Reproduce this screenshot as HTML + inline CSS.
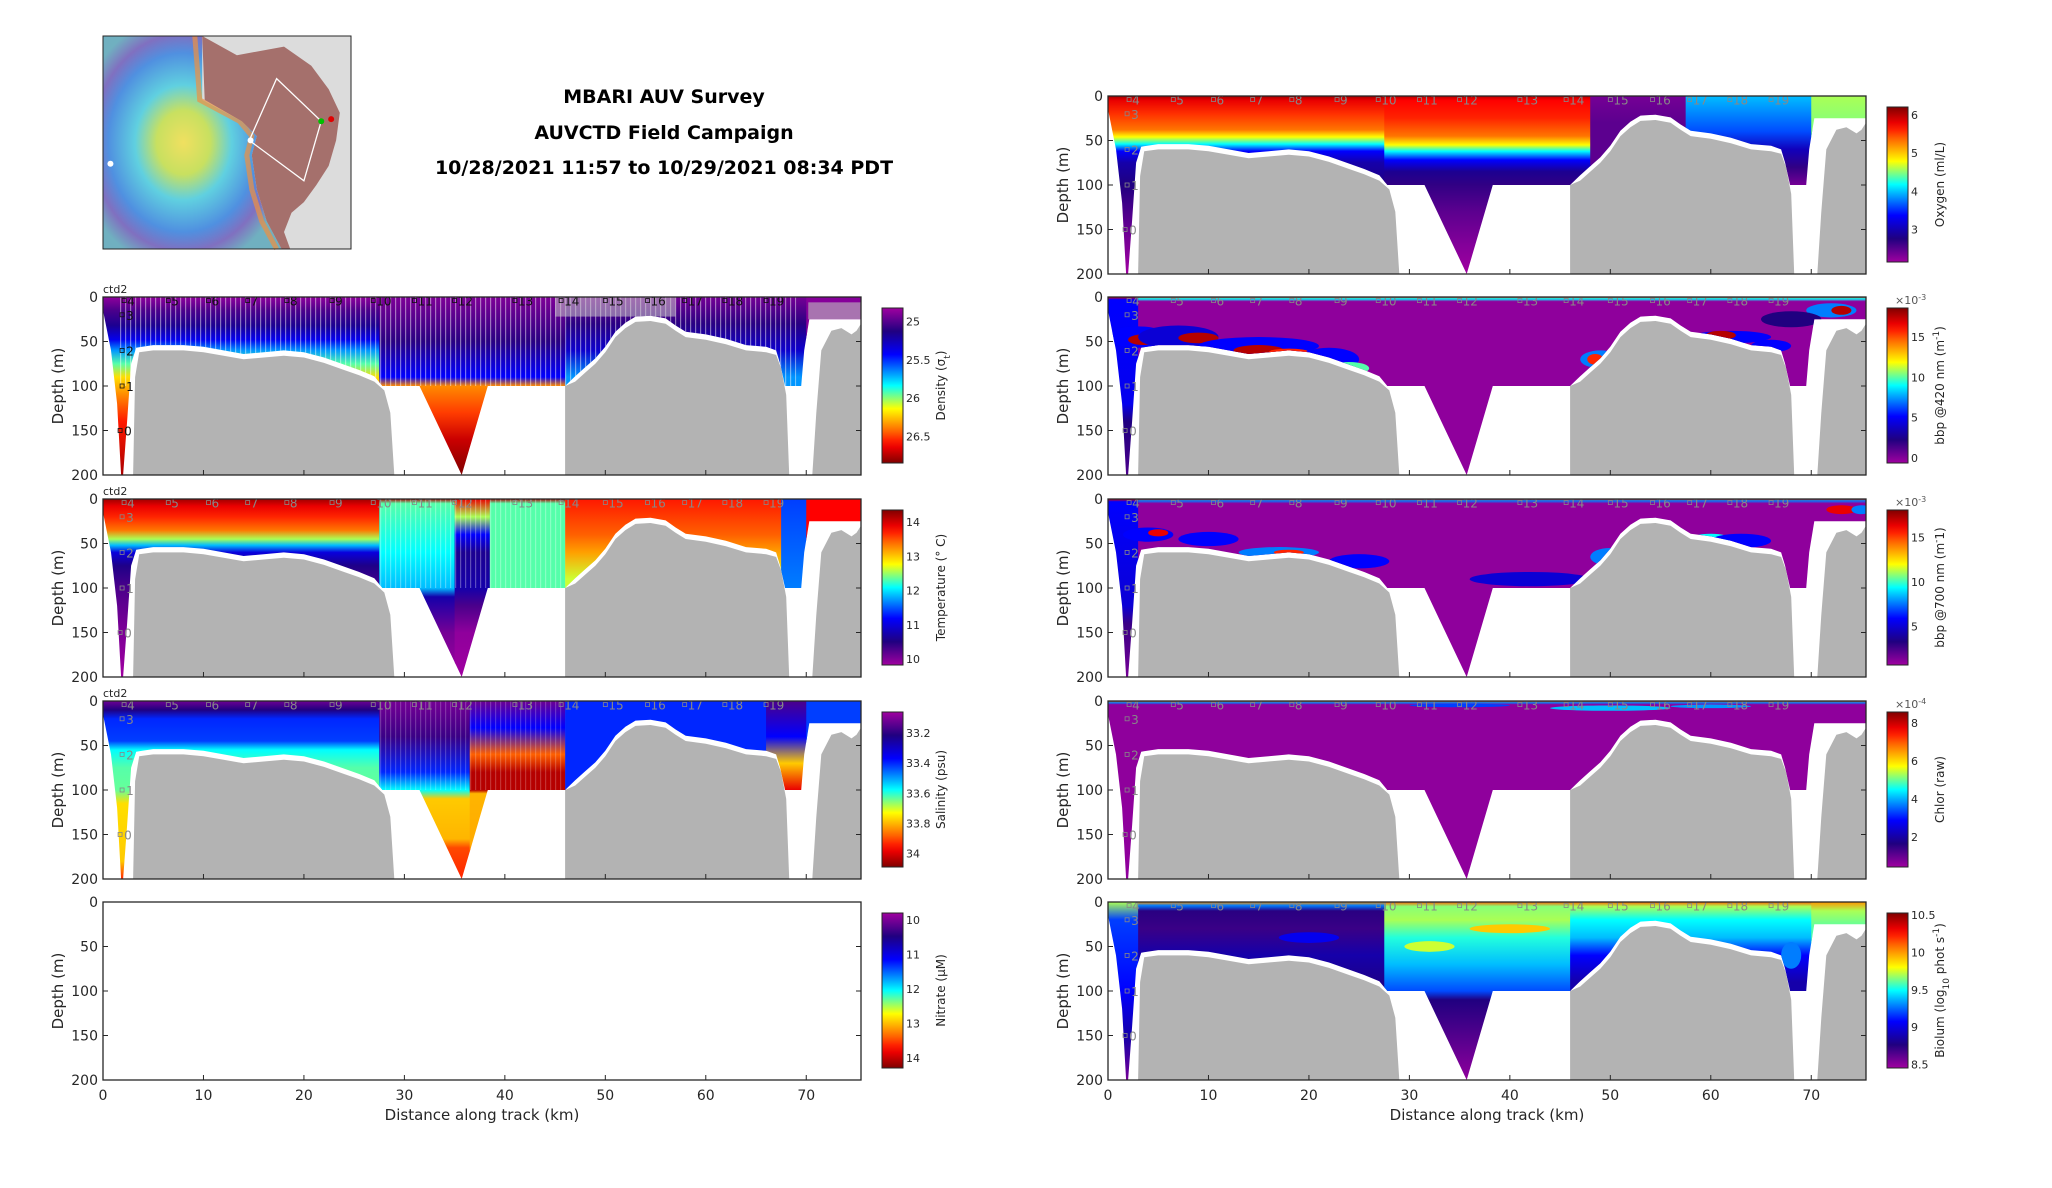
<!DOCTYPE html>
<html><head><meta charset="utf-8"><title>MBARI AUV Survey</title>
<style>
html,body{margin:0;padding:0;background:#fff;}
svg{display:block;font-family:"DejaVu Sans","Liberation Sans",sans-serif;}
</style></head>
<body>
<svg id="fig" xmlns="http://www.w3.org/2000/svg" width="2052" height="1188" viewBox="0 0 2052 1188">
  <g font-weight="bold" font-size="19" text-anchor="middle" fill="#000">
    <text x="664" y="103">MBARI AUV Survey</text>
    <text x="664" y="139">AUVCTD Field Campaign</text>
    <text x="664" y="174">10/28/2021 11:57 to 10/29/2021 08:34 PDT</text>
  </g>
  <g id="map"></g>
</svg>
<script>
// ---------- data arrays ----------
const kmTicks = [0,10,20,30,40,50,60,70];
const depthTicks = [0,50,100,150,200];
const stationKm = [2.1,6.5,10.5,14.4,18.3,22.8,26.9,31,35,41,45.6,50,54.2,57.9,61.9,66];
const stationLabels = ['4','5','6','7','8','9','10','11','12','13','14','15','16','17','18','19'];
const profileKm = [1.9,1.9,1.9,1.7];
const profileDepth = [20,60,100,150];
const profileLabels = ['3','2','1','0'];
const terrain1Km = [3.0,3.2,3.6,5,8,10,12,14,16,18,20,22,24,25.5,27,28,28.6,29];
const terrain1Depth = [200,90,62,60,60,62,66,70,68,66,68,74,82,88,95,105,130,200];
const terrain2Km = [46,46,47,48,49,50,51,52,53,54.5,56,57,58,60,62,64,66,67,67.5,68,68.3];
const terrain2Depth = [200,100,95,85,75,62,45,35,28,27,30,38,45,48,53,60,62,65,80,110,200];
const terrain3Km = [70.6,71,71.5,72.5,73.5,74.5,75,75.45,75.45];
const terrain3Depth = [200,130,60,38,35,42,38,30,200];
const maskKm = [0,75.45,75.45,70.3,69.8,69.5,67.9,67.4,67,66,64,62,60,58,57,56,54.5,53,52,51,50,49,48,47,46,38.3,35.7,31.5,27.8,27,25.5,24,22,20,18,16,14,12,10,8,5,3.9,3.3,2.8,2.4,2.0,1.8,1.4,0.8,0];
const maskDepth = [0,0,25,25,60,100,100,75,60,56,54,47,42,39,32,24,21,22,29,39,56,69,79,89,100,100,200,100,100,89,82,76,68,62,60,62,64,60,56,54,54,56,57,75,140,200,200,120,60,15];

// ---------- layout ----------
const NS = 'http://www.w3.org/2000/svg';
const svg = document.getElementById('fig');
const defs = document.createElementNS(NS,'defs');
svg.appendChild(defs);
const PW = 758, PH = 178, KMAX = 75.45;
const jetT = [0,0.15,0.3,0.42,0.5,0.65,0.8,0.88,1];
const jetC = [[160,0,160],[32,0,128],[0,0,255],[0,150,255],[0,255,255],[255,255,0],[255,96,0],[255,0,0],[128,0,0]];
function jet(t){
  t=Math.max(0,Math.min(1,t));
  for(let i=1;i<jetT.length;i++){ if(t<=jetT[i]){ const f=(t-jetT[i-1])/(jetT[i]-jetT[i-1]); const a=jetC[i-1],b=jetC[i];
    return 'rgb('+Math.round(a[0]+(b[0]-a[0])*f)+','+Math.round(a[1]+(b[1]-a[1])*f)+','+Math.round(a[2]+(b[2]-a[2])*f)+')'; } }
  return 'rgb(128,0,0)';
}
function el(tag,parent){ const e=document.createElementNS(NS,tag); parent.appendChild(e); return e; }

// ---------- panels (depth stops are [depth, colormap fraction]) ----------
const densitySegs = [
 {a:0,b:27.6,s:[[0,0.02],[15,0.1],[32,0.17],[48,0.28],[60,0.42],[75,0.55],[90,0.68],[110,0.76],[140,0.86],[200,0.96]]},
 {a:27.5,b:46.1,s:[[0,0.04],[50,0.14],[90,0.3],[100,0.76],[130,0.83],[160,0.93],[200,1]]},
 {a:46,b:70.1,s:[[0,0.05],[30,0.14],[60,0.24],[90,0.42]]},
 {a:70,b:75.5,s:[[0,0.03],[30,0.03]]}];
const tempSegs = [
 {a:0,b:27.6,s:[[0,0.97],[8,0.9],[20,0.85],[35,0.78],[45,0.6],[52,0.45],[60,0.26],[75,0.16],[100,0.1],[140,0.05],[200,0]]},
 {a:27.5,b:35.1,s:[[0,0.95],[5,0.55],[60,0.5],[100,0.45],[110,0.2],[150,0.05],[200,0]]},
 {a:35,b:38.6,s:[[0,0.9],[20,0.6],[40,0.3],[60,0.17],[100,0.2],[120,0.1],[150,0.02],[200,0]]},
 {a:38.5,b:46.1,s:[[0,0.95],[5,0.55],[100,0.55]]},
 {a:46,b:67.6,s:[[0,0.86],[40,0.8],[60,0.74],[90,0.62]]},
 {a:67.5,b:70.1,s:[[0,0.35],[100,0.4]]},
 {a:70,b:75.5,s:[[0,0.88],[30,0.88]]}];
const salSegs = [
 {a:0,b:27.6,s:[[0,0.06],[10,0.15],[20,0.33],[45,0.35],[55,0.5],[75,0.55],[100,0.56],[115,0.68],[180,0.7],[200,0.85]]},
 {a:27.5,b:36.6,s:[[0,0.05],[40,0.12],[80,0.33],[100,0.5],[110,0.7],[155,0.72],[165,0.82],[200,0.85]]},
 {a:36.5,b:46.1,s:[[0,0.06],[30,0.3],[60,0.8],[80,0.95],[100,0.95],[104,0.72],[160,0.73],[200,0.85]]},
 {a:46,b:66.1,s:[[0,0.33],[100,0.33]]},
 {a:66,b:70.1,s:[[0,0.1],[40,0.3],[70,0.7],[100,0.9]]},
 {a:70,b:75.5,s:[[0,0.35],[30,0.35]]}];
const oxySegs = [
 {a:0,b:27.6,s:[[0,0.97],[5,0.9],[20,0.84],[38,0.78],[46,0.65],[54,0.5],[62,0.3],[75,0.2],[100,0.15],[130,0.1],[160,0.05],[200,0]]},
 {a:27.5,b:48.1,s:[[0,0.95],[5,0.88],[25,0.85],[45,0.78],[55,0.65],[62,0.5],[72,0.3],[85,0.17],[100,0.13],[130,0.08],[170,0.03],[200,0]]},
 {a:48,b:57.6,s:[[0,0.05],[30,0.08]]},
 {a:57.5,b:70.1,s:[[0,0.45],[40,0.36],[60,0.22],[80,0.13],[100,0.05]]},
 {a:70,b:75.5,s:[[0,0.6],[30,0.58]]}];
const bbp420Segs = [
 {a:0,b:3.1,s:[[0,0.9],[3,0.3],[120,0.28],[140,0.15],[200,0.1]]},
 {a:3,b:75.5,s:[[0,0.85],[2,0.5],[5,0.02],[200,0.02]]}];
const bbp420Blobs = [[3,45,3,12,0.3],[3.5,48,1.5,6,0.95],[7,45,4,13,0.25],[9,46,2,6,0.95],[15,55,6,10,0.3],[15,60,2.5,6,0.95],[18,62,2,4,0.85],[22,70,3,13,0.3],[24,80,2,7,0.55],[49,70,2,10,0.4],[48.5,70,0.8,6,0.85],[62,45,4,7,0.3],[61,43,1.5,5,0.95],[66,55,2,7,0.3],[72,15,2.5,8,0.4],[73,15,1,5,0.95],[68,25,3,9,0.15]];
const bbp700Segs = [
 {a:0,b:3.1,s:[[0,0.9],[3,0.3],[120,0.25],[140,0.12],[200,0.05]]},
 {a:3,b:75.5,s:[[0,0.85],[2,0.4],[5,0.02],[200,0.02]]}];
const bbp700Blobs = [[4,40,2.5,8,0.3],[5,38,1,4,0.9],[10,45,3,8,0.3],[17,60,4,6,0.4],[18,60,1.5,3,0.85],[25,70,3,8,0.3],[42,90,6,8,0.25],[50,65,2,10,0.4],[60,45,2,6,0.5],[63,47,3,8,0.3],[73,12,1.5,5,0.9],[75,12,1,5,0.4]];
const chlorSegs = [{a:0,b:75.5,s:[[0,0.8],[2,0.4],[4,0.02],[200,0.02]]}];
const chlorBlobs = [[50,8,6,3,0.45],[60,6,4,2,0.42],[35,5,5,2,0.35]];
const biolumSegs = [
 {a:0,b:3.1,s:[[0,0.6],[20,0.35],[100,0.3],[150,0.2],[200,0.05]]},
 {a:3,b:27.6,s:[[0,0.75],[4,0.4],[10,0.14],[30,0.12],[60,0.2],[100,0.15]]},
 {a:27.5,b:46.1,s:[[0,0.8],[5,0.58],[20,0.6],[40,0.52],[70,0.45],[100,0.36],[110,0.15],[200,0.02]]},
 {a:46,b:70.1,s:[[0,0.8],[5,0.6],[20,0.5],[40,0.45],[60,0.3],[90,0.2]]},
 {a:70,b:75.5,s:[[0,0.75],[10,0.6],[30,0.55]]}];
const biolumBlobs = [[20,40,3,6,0.28],[40,30,4,5,0.7],[32,50,2.5,6,0.62],[68,60,1,15,0.4]];

const densityTicks=[25,25.5,26,26.5], tempTicks=[14,13,12,11,10], salTicks=[33.2,33.4,33.6,33.8,34], nitTicks=[10,11,12,13,14];
const oxyTicks=[6,5,4,3], bbp420Ticks=[15,10,5,0], bbp700Ticks=[15,10,5], chlorTicks=[8,6,4,2], biolumTicks=[10.5,10,9.5,9,8.5];

const panels = [
 {id:'density',x:103,y:297,segs:densitySegs,blobs:[],cbTop:24.82,cbBot:26.85,redTop:false,ticks:densityTicks,label:'Density (σ<tspan baseline-shift="sub" font-size="9">t</tspan>)',exp:'',stripes:[1.5,69,0,100,0.45],ctd:true,stCol:'#111',xl:false,empty:false},
 {id:'temperature',x:103,y:499,segs:tempSegs,blobs:[],cbTop:14.35,cbBot:9.83,redTop:true,ticks:tempTicks,label:'Temperature (° C)',exp:'',stripes:[27.5,46,0,100,0.3],ctd:true,stCol:'#888',xl:false,empty:false},
 {id:'salinity',x:103,y:701,segs:salSegs,blobs:[],cbTop:33.06,cbBot:34.09,redTop:false,ticks:salTicks,label:'Salinity (psu)',exp:'',stripes:[27.5,46,0,100,0.2],ctd:true,stCol:'#888',xl:false,empty:false},
 {id:'nitrate',x:103,y:902,segs:[],blobs:[],cbTop:9.8,cbBot:14.29,redTop:false,ticks:nitTicks,label:'Nitrate (μM)',exp:'',stripes:null,ctd:false,stCol:'#888',xl:true,empty:true},
 {id:'oxygen',x:1108,y:96,segs:oxySegs,blobs:[],cbTop:6.21,cbBot:2.15,redTop:true,ticks:oxyTicks,label:'Oxygen (ml/L)',exp:'',stripes:null,ctd:false,stCol:'#888',xl:false,empty:false},
 {id:'bbp420',x:1108,y:297,segs:bbp420Segs,blobs:bbp420Blobs,cbTop:18.6,cbBot:-0.64,redTop:true,ticks:bbp420Ticks,label:'bbp @420 nm (m<tspan baseline-shift="super" font-size="9">-1</tspan>)',exp:'-3',stripes:null,ctd:false,stCol:'#888',xl:false,empty:false},
 {id:'bbp700',x:1108,y:499,segs:bbp700Segs,blobs:bbp700Blobs,cbTop:18.1,cbBot:0.7,redTop:true,ticks:bbp700Ticks,label:'bbp @700 nm (m<tspan baseline-shift="super" font-size="9">-</tspan>1)',exp:'-3',stripes:null,ctd:false,stCol:'#888',xl:false,empty:false},
 {id:'chlor',x:1108,y:701,segs:chlorSegs,blobs:chlorBlobs,cbTop:8.58,cbBot:0.41,redTop:true,ticks:chlorTicks,label:'Chlor (raw)',exp:'-4',stripes:null,ctd:false,stCol:'#888',xl:false,empty:false},
 {id:'biolum',x:1108,y:902,segs:biolumSegs,blobs:biolumBlobs,cbTop:10.53,cbBot:8.45,redTop:true,ticks:biolumTicks,label:'Biolum (log<tspan baseline-shift="sub" font-size="9">10</tspan> phot s<tspan baseline-shift="super" font-size="9">-1</tspan>)',exp:'',stripes:null,ctd:false,stCol:'#888',xl:true,empty:false}
];

// stripe pattern
const pat = el('pattern',defs);
pat.setAttribute('id','stripes'); pat.setAttribute('width','5'); pat.setAttribute('height','10'); pat.setAttribute('patternUnits','userSpaceOnUse');
const pl = el('rect',pat); pl.setAttribute('x','0'); pl.setAttribute('y','0'); pl.setAttribute('width','1.2'); pl.setAttribute('height','10'); pl.setAttribute('fill','#fff');

panels.forEach((p,pi)=>{
  const xs = km => p.x + km*PW/KMAX;
  const ys = d => p.y + d*PH/200;
  const g = el('g',svg);
  
  
  const cp = el('clipPath',defs); cp.setAttribute('id','clip'+pi);
  const cpp = el('polygon',cp);
  cpp.setAttribute('points', maskKm.map((k,i)=>xs(k).toFixed(1)+','+ys(maskDepth[i]).toFixed(1)).join(' '));
  const dg = el('g',g); dg.setAttribute('clip-path','url(#clip'+pi+')');
  
  
  p.segs.forEach((s,si)=>{
    const lg = el('linearGradient',defs);
    lg.setAttribute('id','g'+pi+'_'+si); lg.setAttribute('gradientUnits','userSpaceOnUse');
    lg.setAttribute('x1','0'); lg.setAttribute('x2','0'); lg.setAttribute('y1',ys(0)); lg.setAttribute('y2',ys(200));
    s.s.forEach(st=>{ const o=el('stop',lg); o.setAttribute('offset',st[0]/200); o.setAttribute('stop-color',jet(st[1])); });
    const r = el('rect',dg);
    
    
    r.setAttribute('x',xs(s.a)); r.setAttribute('y',ys(0)); r.setAttribute('width',xs(s.b)-xs(s.a)); r.setAttribute('height',PH);
    r.setAttribute('fill','url(#g'+pi+'_'+si+')');
  });
  p.blobs.forEach(b=>{
    const e = el('ellipse',dg);
    
    
    e.setAttribute('cx',xs(b[0])); e.setAttribute('cy',ys(b[1])); e.setAttribute('rx',b[2]*PW/KMAX); e.setAttribute('ry',b[3]*PH/200);
    e.setAttribute('fill',jet(b[4]));
  });
  if(p.stripes){
    const r = el('rect',dg);
    
    
    r.setAttribute('x',xs(p.stripes[0])); r.setAttribute('y',ys(p.stripes[2])); r.setAttribute('width',xs(p.stripes[1])-xs(p.stripes[0])); r.setAttribute('height',ys(p.stripes[3])-ys(p.stripes[2]));
    r.setAttribute('fill','url(#stripes)'); r.setAttribute('opacity',p.stripes[4]);
  }
  if(p.id==='density'){
    const r1 = el('rect',dg);
    
    
    r1.setAttribute('x',xs(45)); r1.setAttribute('y',ys(0)); r1.setAttribute('width',xs(57)-xs(45)); r1.setAttribute('height',ys(22)-ys(0)); r1.setAttribute('fill','#c8c8c8'); r1.setAttribute('opacity','0.55');
    const r2 = el('rect',dg);
    
    
    r2.setAttribute('x',xs(70.2)); r2.setAttribute('y',ys(6)); r2.setAttribute('width',xs(75.45)-xs(70.2)); r2.setAttribute('height',ys(25)-ys(6)); r2.setAttribute('fill','#c0c0c0'); r2.setAttribute('opacity','0.6');
  }
  if(!p.empty){
    [[terrain1Km,terrain1Depth],[terrain2Km,terrain2Depth],[terrain3Km,terrain3Depth]].forEach(t=>{
      const poly = el('polygon',g);
      
      
      poly.setAttribute('points', t[0].map((k,i)=>xs(k).toFixed(1)+','+ys(t[1][i]).toFixed(1)).join(' '));
      poly.setAttribute('fill','#b3b3b3');
    });
    stationKm.forEach((k,i)=>{
      const q = el('rect',g);
      
      
      q.setAttribute('x',xs(k)-2); q.setAttribute('y',ys(4)-2); q.setAttribute('width',4); q.setAttribute('height',4); q.setAttribute('fill','none'); q.setAttribute('stroke',p.stCol); q.setAttribute('stroke-width','0.8');
      const tx = el('text',g);
      
      
      tx.setAttribute('x',xs(k)+3); tx.setAttribute('y',ys(4)+5); tx.setAttribute('font-size','12'); tx.setAttribute('fill',p.stCol);
      tx.textContent = stationLabels[i];
    });
    profileKm.forEach((k,i)=>{
      const q = el('rect',g);
      
      
      q.setAttribute('x',xs(k)-2); q.setAttribute('y',ys(profileDepth[i])-2); q.setAttribute('width',4); q.setAttribute('height',4); q.setAttribute('fill','none'); q.setAttribute('stroke',p.stCol); q.setAttribute('stroke-width','0.8');
      const tx = el('text',g);
      
      
      tx.setAttribute('x',xs(k)+4); tx.setAttribute('y',ys(profileDepth[i])+5); tx.setAttribute('font-size','12'); tx.setAttribute('fill',p.stCol);
      tx.textContent = profileLabels[i];
    });
  }
  const fr = el('rect',g);
  
  
  fr.setAttribute('x',p.x); fr.setAttribute('y',p.y); fr.setAttribute('width',PW); fr.setAttribute('height',PH);
  fr.setAttribute('fill','none'); fr.setAttribute('stroke','#262626'); fr.setAttribute('stroke-width','1.3');
  depthTicks.forEach(d=>{
    const tl = el('line',g);
    
    
    tl.setAttribute('x1',p.x); tl.setAttribute('x2',p.x+5); tl.setAttribute('y1',ys(d)); tl.setAttribute('y2',ys(d)); tl.setAttribute('stroke','#262626');
    const tr = el('line',g);
    
    
    tr.setAttribute('x1',p.x+PW); tr.setAttribute('x2',p.x+PW-5); tr.setAttribute('y1',ys(d)); tr.setAttribute('y2',ys(d)); tr.setAttribute('stroke','#262626');
    const tx = el('text',g);
    
    
    tx.setAttribute('x',p.x-5); tx.setAttribute('y',ys(d)+5); tx.setAttribute('font-size','14'); tx.setAttribute('text-anchor','end'); tx.setAttribute('fill','#262626');
    tx.textContent = d;
  });
  kmTicks.forEach(k=>{
    const tl = el('line',g);
    
    
    tl.setAttribute('x1',xs(k)); tl.setAttribute('x2',xs(k)); tl.setAttribute('y1',p.y+PH); tl.setAttribute('y2',p.y+PH-5); tl.setAttribute('stroke','#262626');
    if(p.xl){
      const tx = el('text',g);
      
      
      tx.setAttribute('x',xs(k)); tx.setAttribute('y',p.y+PH+20); tx.setAttribute('font-size','14'); tx.setAttribute('text-anchor','middle'); tx.setAttribute('fill','#262626');
      tx.textContent = k;
    }
  });
  if(p.xl){
    const xl = el('text',g);
    
    
    xl.setAttribute('x',p.x+PW/2); xl.setAttribute('y',p.y+PH+40); xl.setAttribute('font-size','15'); xl.setAttribute('text-anchor','middle'); xl.setAttribute('fill','#262626');
    xl.textContent = 'Distance along track (km)';
  }
  const yl = el('text',g);
  
  
  yl.setAttribute('transform','translate('+(p.x-40)+','+(p.y+PH/2)+') rotate(-90)');
  yl.setAttribute('font-size','15'); yl.setAttribute('text-anchor','middle'); yl.setAttribute('fill','#262626');
  yl.textContent = 'Depth (m)';
  if(p.ctd){
    const c = el('text',g);
    
    
    c.setAttribute('x',p.x); c.setAttribute('y',p.y-4); c.setAttribute('font-size','11'); c.setAttribute('fill','#262626');
    c.textContent = 'ctd2';
  }
  const cx = p.x+PW+21, cyT = p.y+11, ch = 155, cw = 21;
  const cg = el('linearGradient',defs);
  cg.setAttribute('id','cb'+pi); cg.setAttribute('x1','0'); cg.setAttribute('x2','0'); cg.setAttribute('y1','0'); cg.setAttribute('y2','1');
  for(let i=0;i<=20;i++){ const o=el('stop',cg); o.setAttribute('offset',i/20); o.setAttribute('stop-color',jet(p.redTop?1-i/20:i/20)); }
  const cb = el('rect',g);
  
  
  cb.setAttribute('x',cx); cb.setAttribute('y',cyT); cb.setAttribute('width',cw); cb.setAttribute('height',ch);
  cb.setAttribute('fill','url(#cb'+pi+')'); cb.setAttribute('stroke','#262626'); cb.setAttribute('stroke-width','1');
  const cv = v => cyT + (v-p.cbTop)/(p.cbBot-p.cbTop)*ch;
  p.ticks.forEach(v=>{
    const tx = el('text',g);
    
    
    tx.setAttribute('x',cx+cw+3); tx.setAttribute('y',cv(v)+4); tx.setAttribute('font-size','11'); tx.setAttribute('fill','#262626');
    tx.textContent = v;
  });
  if(p.exp){
    const ex = el('text',g);
    
    
    ex.setAttribute('x',cx+8); ex.setAttribute('y',cyT-4); ex.setAttribute('font-size','11'); ex.setAttribute('fill','#555');
    ex.innerHTML = '×10<tspan baseline-shift="super" font-size="8">'+p.exp+'</tspan>';
  }
  const lab = el('text',g);
  
  
  lab.setAttribute('transform','translate('+(cx+cw+(p.x<500?42:36))+','+(cyT+ch/2)+') rotate(-90)');
  lab.setAttribute('font-size','12'); lab.setAttribute('text-anchor','middle'); lab.setAttribute('fill','#262626');
  lab.innerHTML = p.label;
});

// ---------- map ----------
const map = document.getElementById('map');
const MX=103, MY=36, MW=248, MH=213;
const mp = (fx,fy)=> (MX+fx*MW).toFixed(1)+','+(MY+fy*MH).toFixed(1);
const mg = el('radialGradient',defs);
mg.setAttribute('id','mapgrad'); mg.setAttribute('cx','0.45'); mg.setAttribute('cy','0.5'); mg.setAttribute('r','0.6');
[[0,'#f0e060'],[0.25,'#c8e060'],[0.45,'#60d0e0'],[0.7,'#5090e0'],[0.85,'#8070c0'],[1,'#70b0c0']].forEach(s=>{const o=el('stop',mg);o.setAttribute('offset',s[0]);o.setAttribute('stop-color',s[1]);});
const mbg = el('rect',map);


mbg.setAttribute('x',MX); mbg.setAttribute('y',MY); mbg.setAttribute('width',MW); mbg.setAttribute('height',MH); mbg.setAttribute('fill','#dcdcdc');
const rain = el('polygon',map);


rain.setAttribute('points',[mp(0,0),mp(0.4,0),mp(0.4,0.3),mp(0.56,0.4),mp(0.62,0.47),mp(0.6,0.56),mp(0.62,0.72),mp(0.66,0.87),mp(0.72,1),mp(0,1)].join(' '));
rain.setAttribute('fill','url(#mapgrad)');
const edge = el('polyline',map);


edge.setAttribute('points',[mp(0.37,0),mp(0.39,0.3),mp(0.55,0.4),mp(0.6,0.47),mp(0.58,0.56),mp(0.6,0.72),mp(0.64,0.87),mp(0.7,1)].join(' '));
edge.setAttribute('fill','none'); edge.setAttribute('stroke','#f09040'); edge.setAttribute('stroke-width','5'); edge.setAttribute('opacity','0.7');
const brown = el('polygon',map);


brown.setAttribute('points',[mp(0.4,0),mp(0.54,0.09),mp(0.73,0.05),mp(0.84,0.14),mp(0.91,0.25),mp(0.955,0.36),mp(0.94,0.49),mp(0.91,0.61),mp(0.86,0.7),mp(0.81,0.78),mp(0.76,0.83),mp(0.73,0.92),mp(0.755,1),mp(0.72,1),mp(0.66,0.87),mp(0.62,0.72),mp(0.6,0.56),mp(0.62,0.47),mp(0.56,0.4),mp(0.41,0.3)].join(' '));
brown.setAttribute('fill','#a5706c');
const track = el('polygon',map);


track.setAttribute('points',[mp(0.70,0.2),mp(0.88,0.40),mp(0.81,0.68),mp(0.59,0.49)].join(' '));
track.setAttribute('fill','none'); track.setAttribute('stroke','#fff'); track.setAttribute('stroke-width','1.3');
[[0.88,0.40,'#00c000'],[0.92,0.39,'#e00000'],[0.595,0.49,'#fff'],[0.03,0.6,'#fff']].forEach(d=>{
  const c = el('circle',map);
  
  
  c.setAttribute('cx',MX+d[0]*MW); c.setAttribute('cy',MY+d[1]*MH); c.setAttribute('r','3'); c.setAttribute('fill',d[2]);
});
const mf = el('rect',map);


mf.setAttribute('x',MX); mf.setAttribute('y',MY); mf.setAttribute('width',MW); mf.setAttribute('height',MH); mf.setAttribute('fill','none'); mf.setAttribute('stroke','#262626');
</script>
</body></html>
